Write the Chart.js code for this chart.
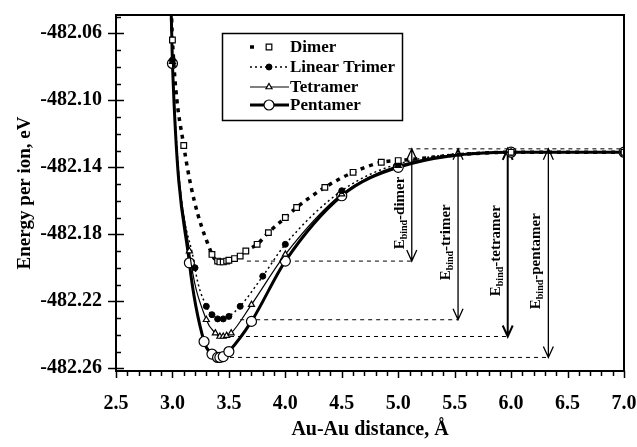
<!DOCTYPE html>
<html>
<head>
<meta charset="utf-8">
<script src="https://cdn.jsdelivr.net/npm/chart.js@4.4.0/dist/chart.umd.min.js"></script>
<style>
    html, body { margin: 0; padding: 0; background: #fff; }
</style>
</head>
<body>
<canvas id="graphique" width="637" height="447"></canvas>
<script>
// Distances Au-Au (Å) et énergies par ion (eV)
const dimerX  = [2.985, 3.0, 3.1, 3.35, 3.4, 3.42, 3.45, 3.48, 3.5, 3.55, 3.6, 3.65, 3.75, 3.85, 4.0, 4.1, 4.35, 4.6, 4.85, 5.0, 6.0, 7.0];
const dimerE  = [-482.035, -482.064, -482.127, -482.192, -482.196, -482.1965, -482.1965, -482.196, -482.1955, -482.1945, -482.193, -482.190, -482.186, -482.179, -482.170, -482.164, -482.152, -482.143, -482.137, -482.136, -482.131, -482.131];

const trimerX = [2.985, 3.0, 3.2, 3.3, 3.35, 3.4, 3.45, 3.5, 3.6, 3.8, 4.0, 4.5, 5.0, 6.0, 7.0];
const trimerE = [-482.035, -482.076, -482.200, -482.223, -482.228, -482.2305, -482.2305, -482.229, -482.223, -482.205, -482.186, -482.154, -482.138, -482.131, -482.131];

const tetraX  = [2.985, 3.0, 3.15, 3.3, 3.38, 3.42, 3.45, 3.48, 3.52, 3.7, 4.0, 4.5, 5.0, 6.0, 7.0];
const tetraE  = [-482.035, -482.077, -482.190, -482.231, -482.239, -482.241, -482.241, -482.2405, -482.239, -482.222, -482.192, -482.156, -482.139, -482.131, -482.131];

const pentaX  = [2.985, 3.0, 3.15, 3.28, 3.35, 3.4, 3.42, 3.45, 3.5, 3.7, 4.0, 4.5, 5.0, 6.0, 7.0];
const pentaE  = [-482.035, -482.078, -482.197, -482.244, -482.2515, -482.2535, -482.2535, -482.253, -482.250, -482.232, -482.196, -482.157, -482.140, -482.131, -482.131];

// Axes
const xMin = 2.5, xMax = 7.0, xPas = 0.5, xPasMineur = 0.1;
const yMin = -482.2616, yMax = -482.0491;
const yTicks = [-482.26, -482.22, -482.18, -482.14, -482.10, -482.06];
const yPasMineur = 0.01;

// Energies de liaison (flèches)
const liaisonNoms   = ["dimer", "trimer", "tetramer", "pentamer"];
const liaisonMinE   = [-482.196, -482.231, -482.241, -482.2535];
const liaisonDebutX = [3.66, 3.6, 3.51, 3.51];
const liaisonFlecheX = [5.12, 5.53, 5.97, 6.33];
const asymptoteE = -482.129;
const asymptoteDebutX = 5.09;

const POLICE = "'Liberation Serif', 'Times New Roman', serif";

function points(xs, es) {
    return xs.map((x, i) => ({ x: x, y: es[i] }));
}

// les points hors du cadre (prolongement de la courbe) n'ont pas de marqueur
function rayon(r) {
    return ctx => (ctx.raw && ctx.raw.y > yMax) ? 0 : r;
}

const cadre = {
    id: "cadre",
    afterDraw(chart) {
        const { ctx, chartArea: a, scales: { x, y } } = chart;
        ctx.save();
        ctx.strokeStyle = "#000";
        ctx.lineWidth = 2;
        ctx.beginPath();
        ctx.moveTo(a.left, a.top);
        ctx.lineTo(a.right, a.top);
        ctx.lineTo(a.right, a.bottom);
        ctx.stroke();

        ctx.lineWidth = 1.5;
        // graduations de l'axe x
        const nx = Math.round((xMax - xMin) / xPasMineur);
        for (let i = 0; i <= nx; i++) {
            const px = Math.round(x.getPixelForValue(xMin + i * xPasMineur)) + 0.5;
            const lg = i % 5 === 0 ? 7 : 5;
            ctx.beginPath();
            ctx.moveTo(px, a.bottom);
            ctx.lineTo(px, a.bottom + lg);
            ctx.stroke();
        }
        // graduations de l'axe y
        const ny = Math.round((yTicks[yTicks.length - 1] - yTicks[0]) / yPasMineur);
        for (let i = 0; i <= ny + 1; i++) {
            const v = yTicks[0] + i * yPasMineur;
            if (v > yMax) break;
            const py = Math.round(y.getPixelForValue(v)) + 0.5;
            ctx.beginPath();
            if (i % 4 === 0) {
                ctx.moveTo(a.left - 8, py);
                ctx.lineTo(a.left + 8, py);
            } else {
                ctx.moveTo(a.left, py);
                ctx.lineTo(a.left + 5, py);
            }
            ctx.stroke();
        }
        ctx.restore();
    }
};

const liaisons = {
    id: "liaisons",
    beforeDatasetsDraw(chart) {
        const { ctx, scales: { x, y } } = chart;
        const yHaut = y.getPixelForValue(asymptoteE);
        ctx.save();
        ctx.strokeStyle = "#000";
        ctx.fillStyle = "#000";
        ctx.lineWidth = 1;
        ctx.setLineDash([4, 4]);
        ctx.beginPath();
        ctx.moveTo(x.getPixelForValue(asymptoteDebutX), yHaut);
        ctx.lineTo(x.getPixelForValue(xMax), yHaut);
        liaisonMinE.forEach((e, i) => {
            const py = y.getPixelForValue(e);
            ctx.moveTo(x.getPixelForValue(liaisonDebutX[i]), py);
            ctx.lineTo(x.getPixelForValue(liaisonFlecheX[i]), py);
        });
        ctx.stroke();
        ctx.setLineDash([]);

        liaisonMinE.forEach((e, i) => {
            const px = x.getPixelForValue(liaisonFlecheX[i]);
            const py = y.getPixelForValue(e);
            ctx.lineWidth = i === 2 ? 2 : 1.3;
            ctx.beginPath();
            ctx.moveTo(px, yHaut);
            ctx.lineTo(px, py);
            ctx.moveTo(px - 5, py - 11);
            ctx.lineTo(px, py);
            ctx.lineTo(px + 5, py - 11);
            ctx.moveTo(px - 5, yHaut + 11);
            ctx.lineTo(px, yHaut);
            ctx.lineTo(px + 5, yHaut + 11);
            ctx.stroke();

            // texte vertical E_bind-xxx
            const grand = "bold 15px " + POLICE;
            const petit = "bold 10px " + POLICE;
            const reste = "-" + liaisonNoms[i];
            ctx.font = grand;
            const wE = ctx.measureText("E").width;
            const wR = ctx.measureText(reste).width;
            ctx.font = petit;
            const wS = ctx.measureText("bind").width;
            const total = wE + wS + wR;
            ctx.save();
            ctx.translate(px - 13, (yHaut + py) / 2 + 8);
            ctx.rotate(-Math.PI / 2);
            ctx.textBaseline = "alphabetic";
            ctx.textAlign = "left";
            let cx = -total / 2;
            ctx.font = grand;
            ctx.fillText("E", cx, 5);
            cx += wE;
            ctx.font = petit;
            ctx.fillText("bind", cx, 8);
            cx += wS;
            ctx.font = grand;
            ctx.fillText(reste, cx, 5);
            ctx.restore();
        });
        ctx.restore();
    }
};

const legende = {
    id: "legende",
    afterDraw(chart) {
        const ctx = chart.ctx;
        const lignes = [47, 67, 87, 105];
        ctx.save();
        ctx.fillStyle = "#fff";
        ctx.fillRect(222, 33, 181, 87);
        ctx.strokeStyle = "#000";
        ctx.lineWidth = 1.5;
        ctx.strokeRect(222.5, 33.5, 180, 87);
        chart.data.datasets.forEach((ds, i) => {
            const py = lignes[i];
            ctx.strokeStyle = "#000";
            ctx.lineWidth = ds.borderWidth;
            ctx.setLineDash(ds.borderDash || []);
            ctx.beginPath();
            ctx.moveTo(250, py);
            ctx.lineTo(i === 0 ? 256 : 289, py);
            ctx.stroke();
            ctx.setLineDash([]);
            ctx.fillStyle = ds.pointBackgroundColor;
            ctx.lineWidth = ds.pointBorderWidth;
            Chart.helpers.drawPoint(ctx, {
                pointStyle: ds.pointStyle,
                radius: ds.rayonLegende,
                rotation: 0,
                borderWidth: ds.pointBorderWidth
            }, 269, py);
            ctx.fillStyle = "#000";
            ctx.font = "bold 17px " + POLICE;
            ctx.textBaseline = "middle";
            ctx.textAlign = "left";
            ctx.fillText(ds.label, 290, py + 1);
        });
        ctx.restore();
    }
};

Chart.defaults.font.family = POLICE;
Chart.defaults.color = "#000";

new Chart(document.getElementById("graphique"), {
    type: "line",
    data: {
        datasets: [
            {
                label: "Dimer",
                data: points(dimerX, dimerE),
                borderColor: "#000",
                borderWidth: 3.5,
                borderDash: [4, 5],
                pointStyle: "rect",
                pointRadius: rayon(4),
                rayonLegende: 4,
                pointBackgroundColor: "#fff",
                pointBorderColor: "#000",
                pointBorderWidth: 1.2,
                cubicInterpolationMode: "monotone"
            },
            {
                label: "Linear Trimer",
                data: points(trimerX, trimerE),
                borderColor: "#000",
                borderWidth: 1.5,
                borderDash: [2, 3],
                pointStyle: "circle",
                pointRadius: rayon(3),
                rayonLegende: 3,
                pointBackgroundColor: "#000",
                pointBorderColor: "#000",
                pointBorderWidth: 1,
                cubicInterpolationMode: "monotone"
            },
            {
                label: "Tetramer",
                data: points(tetraX, tetraE),
                borderColor: "#000",
                borderWidth: 1.2,
                pointStyle: "triangle",
                pointRadius: rayon(3.5),
                rayonLegende: 3.5,
                pointBackgroundColor: "#fff",
                pointBorderColor: "#000",
                pointBorderWidth: 1.2,
                cubicInterpolationMode: "monotone"
            },
            {
                label: "Pentamer",
                data: points(pentaX, pentaE),
                borderColor: "#000",
                borderWidth: 3,
                pointStyle: "circle",
                pointRadius: rayon(5),
                rayonLegende: 5,
                pointBackgroundColor: "#fff",
                pointBorderColor: "#000",
                pointBorderWidth: 1.2,
                cubicInterpolationMode: "monotone"
            }
        ]
    },
    options: {
        responsive: false,
        devicePixelRatio: 1,
        animation: false,
        layout: { padding: { top: 15, right: 13, left: 0, bottom: 0 } },
        plugins: { legend: { display: false }, tooltip: { enabled: false } },
        scales: {
            x: {
                type: "linear",
                min: xMin,
                max: xMax,
                ticks: {
                    stepSize: xPas,
                    font: { size: 20, weight: "bold" },
                    padding: 21,
                    maxRotation: 0,
                    callback: v => v.toFixed(1)
                },
                grid: { display: true, drawOnChartArea: false, drawTicks: false },
                border: { display: true, color: "#000", width: 2 },
                title: {
                    display: true,
                    text: "Au-Au distance, Å",
                    font: { size: 20, weight: "bold" },
                    padding: { top: 0, bottom: 5 }
                },
                afterFit: scale => {
                    scale.height = 76;
                    scale.paddingLeft = 0;
                    scale.paddingRight = 0;
                }
            },
            y: {
                min: yMin,
                max: yMax,
                afterBuildTicks: scale => { scale.ticks = yTicks.map(v => ({ value: v })); },
                ticks: {
                    font: { size: 20, weight: "bold" },
                    padding: 14,
                    callback: v => v.toFixed(2)
                },
                grid: { display: true, drawOnChartArea: false, drawTicks: false },
                border: { display: true, color: "#000", width: 2 },
                title: {
                    display: true,
                    text: "Energy per ion, eV",
                    font: { size: 19, weight: "bold" },
                    padding: { top: 14, bottom: 0 }
                },
                afterFit: scale => {
                    scale.width = 116;
                    scale.paddingTop = 0;
                    scale.paddingBottom = 0;
                }
            }
        }
    },
    plugins: [liaisons, cadre, legende]
});
</script>
</body>
</html>
